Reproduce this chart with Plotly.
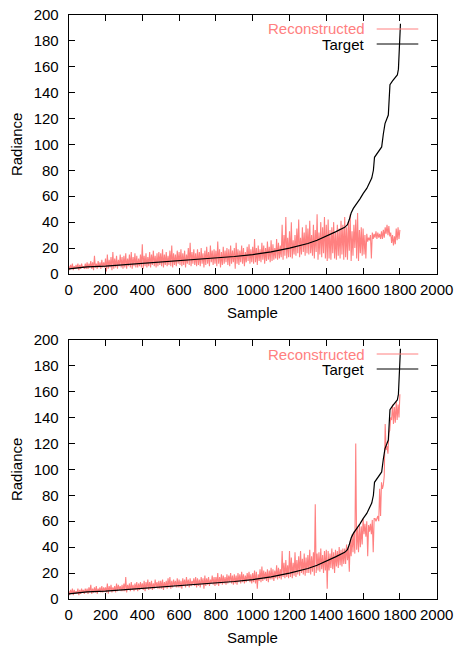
import plotly.graph_objects as go

# ---------------- data ----------------
STEP = 10  # hi values at 0,10,...,1800 ; lo values at 5,15,...,1795

tgt_x = [0, 50, 100, 200, 300, 400, 500, 600, 700, 800, 900, 1000, 1100, 1200,
         1250, 1300, 1350, 1400, 1450, 1500, 1515, 1525, 1535, 1547, 1560, 1583,
         1600, 1620, 1647, 1656, 1662, 1674, 1690, 1701, 1710, 1719, 1737, 1746,
         1760, 1774, 1786, 1792, 1797, 1801, 1803]
tgt_y = [4, 5, 5.5, 6, 7, 8, 9, 10, 11, 12, 13.5, 15, 17, 20,
         21.5, 23.5, 26, 29, 32.5, 36, 38, 42, 47, 50.6, 53, 58,
         62, 66, 74, 80, 90, 92.5, 95, 98, 108, 116, 122.6, 146,
         149, 151, 153.5, 158, 173, 190, 193]

top_hi = [6, 7, 8, 6, 7, 8, 7, 8, 6, 8,
          9, 8, 10, 9, 14, 8, 10, 9, 11, 9,
          12, 15, 11, 13, 17, 12, 14, 11, 15, 13,
          14, 16, 12, 15, 17, 13, 16, 14, 12, 15,
          23, 14, 16, 13, 17, 15, 18, 14, 16, 17,
          16, 19, 15, 17, 14, 18, 22, 16, 15, 18,
          17, 19, 16, 18, 15, 20, 24, 17, 19, 16,
          19, 17, 20, 16, 18, 21, 17, 22, 18, 19,
          18, 25, 19, 17, 21, 18, 20, 19, 22, 18,
          20, 24, 19, 18, 22, 20, 17, 21, 23, 19,
          21, 27, 20, 22, 19, 24, 22, 20, 25, 21,
          26, 23, 20, 27, 24, 22, 38, 30, 44, 28,
          33, 40, 26, 30, 35, 42, 28, 36, 32, 38,
          35, 41, 30, 38, 34, 46, 32, 40, 36, 44,
          38, 42, 34, 36, 40, 32, 38, 35, 41, 38,
          44, 36, 40, 46, 33, 38, 42, 47, 34, 36,
          35, 30, 31, 28, 30, 32, 31, 33, 32, 31,
          33, 34, 36, 38, 37, 32, 30, 29, 35, 36,
          34]
top_lo = [3, 4, 3, 4, 4, 3, 4, 5, 4, 4,
          4, 5, 4, 3, 5, 4, 5, 4, 5, 5,
          2, 4, 5, 3, 4, 5, 4, 6, 5, 4,
          5, 4, 6, 5, 4, 6, 5, 5, 6, 5,
          4, 6, 5, 6, 5, 7, 6, 5, 6, 7,
          6, 5, 7, 6, 7, 6, 5, 7, 6, 8,
          7, 6, 7, 5, 8, 7, 6, 8, 7, 6,
          7, 6, 8, 5, 7, 8, 6, 9, 7, 8,
          6, 8, 5, 7, 8, 9, 7, 6, 8, 9,
          4, 8, 7, 9, 8, 6, 9, 10, 8, 9,
          8, 9, 7, 10, 9, 11, 8, 10, 11, 9,
          10, 11, 12, 11, 12, 13, 11, 14, 12, 13,
          13, 12, 15, 14, 16, 13, 15, 17, 14, 16,
          15, 16, 14, 12, 17, 11, 15, 13, 16, 12,
          10, 12, 11, 16, 12, 11, 14, 12, 15, 11,
          13, 11, 18, 10, 14, 20, 12, 10, 16, 14,
          15, 12, 25, 26, 12, 27, 28, 27, 28, 27,
          27, 28, 31, 30, 29, 24, 22, 23, 26, 27]

bot_hi = [6, 7, 8, 7, 6, 8, 7, 8, 7, 8,
          8, 9, 11, 8, 9, 10, 8, 9, 10, 9,
          9, 12, 10, 11, 9, 10, 12, 11, 10, 11,
          12, 17, 11, 12, 13, 11, 12, 13, 12, 13,
          12, 14, 13, 15, 13, 14, 12, 15, 13, 14,
          14, 15, 13, 14, 16, 17, 14, 15, 14, 16,
          15, 14, 16, 15, 17, 15, 16, 14, 16, 17,
          16, 15, 17, 16, 18, 16, 17, 15, 18, 17,
          17, 20, 17, 19, 18, 17, 19, 18, 20, 18,
          19, 18, 20, 19, 21, 19, 18, 20, 21, 19,
          20, 22, 21, 19, 23, 25, 22, 21, 23, 22,
          24, 23, 22, 26, 24, 23, 37, 28, 30, 26,
          37, 32, 28, 36, 30, 33, 37, 31, 35, 32,
          34, 38, 33, 36, 73, 35, 36, 39, 34, 37,
          38, 37, 35, 39, 36, 38, 37, 40, 38, 39,
          39, 42, 40, 45, 50, 52, 120, 55, 57, 56,
          62, 58, 60, 57, 58, 61, 62, 60, 64, 85,
          90, 88, 135, 118, 128, 140, 150, 148, 152, 150,
          158]
bot_lo = [3, 4, 3, 4, 4, 3, 4, 5, 4, 5,
          4, 5, 4, 5, 5, 4, 6, 5, 5, 6,
          5, 4, 6, 5, 6, 5, 6, 7, 6, 6,
          6, 5, 7, 6, 7, 6, 7, 6, 7, 8,
          7, 6, 8, 7, 8, 7, 8, 9, 8, 8,
          8, 7, 9, 8, 9, 8, 9, 10, 9, 9,
          9, 8, 10, 9, 10, 9, 10, 11, 10, 9,
          10, 9, 11, 8, 10, 11, 10, 12, 11, 10,
          11, 10, 12, 11, 12, 11, 12, 13, 12, 11,
          12, 11, 13, 12, 13, 12, 13, 14, 13, 12,
          13, 12, 8, 14, 13, 14, 15, 14, 13, 15,
          15, 14, 16, 15, 16, 15, 17, 16, 17, 16,
          17, 16, 18, 17, 19, 18, 20, 19, 18, 20,
          20, 19, 21, 18, 20, 22, 21, 23, 20, 22,
          8, 22, 24, 23, 20, 25, 24, 26, 25, 27,
          27, 30, 21, 33, 36, 35, 38, 36, 40, 42,
          50, 48, 33, 52, 50, 36, 62, 63, 60, 64,
          85, 95, 115, 112, 130, 138, 135, 136, 138, 140]

x_ticks = [0, 200, 400, 600, 800, 1000, 1200, 1400, 1600, 1800, 2000]
y_ticks = [0, 20, 40, 60, 80, 100, 120, 140, 160, 180, 200]

RED = "#ff8080"
FONT = "Liberation Sans, Arial, sans-serif"
FS = 15

# the page's default body margin is removed (post_script), so the figure
# fills the 455x646 window from its top-left corner
W, H = 455, 646


def px(x):
    return x / W


def py(y):
    return 1 - y / H


def zigzag(hi, lo):
    xs, ys = [], []
    for i, h in enumerate(hi):
        xs.append(i * STEP)
        ys.append(h)
        if i < len(lo):
            xs.append(i * STEP + STEP / 2)
            ys.append(lo[i])
    return xs, ys


fig = go.Figure()

panels = [("x", "y", top_hi, top_lo), ("x2", "y2", bot_hi, bot_lo)]
for xa, ya, hi, lo in panels:
    zx, zy = zigzag(hi, lo)
    fig.add_trace(go.Scatter(x=zx, y=zy, mode="lines", xaxis=xa, yaxis=ya,
                             line=dict(color=RED, width=1.1), showlegend=False,
                             hoverinfo="skip"))
    fig.add_trace(go.Scatter(x=tgt_x, y=tgt_y, mode="lines", xaxis=xa, yaxis=ya,
                             line=dict(color="black", width=1.2), showlegend=False,
                             hoverinfo="skip"))

PL, PR = 68.7, 436.7
panel_px = [(14.7, 274.0), (339.7, 599.0)]

axis_common = dict(showline=True, linecolor="black", linewidth=1, mirror="ticks",
                   ticks="inside", ticklen=6, tickcolor="black", tickwidth=1,
                   showgrid=False, zeroline=False, automargin=False,
                   ticklabeloverflow="allow",
                   tickfont=dict(family=FONT, size=FS, color="black"))

fig.update_layout(
    width=W, height=H, margin=dict(l=0, r=0, t=0, b=0),
    paper_bgcolor="white", plot_bgcolor="white",
    font=dict(family=FONT, size=FS, color="black"),
    xaxis=dict(domain=[px(PL), px(PR)], range=[0, 2000], tickvals=x_ticks, anchor="y",
               ticklabelstandoff=2, **axis_common),
    yaxis=dict(domain=[py(panel_px[0][1]), py(panel_px[0][0])], range=[0, 200],
               tickvals=y_ticks, anchor="x", ticklabelstandoff=6, **axis_common),
    xaxis2=dict(domain=[px(PL), px(PR)], range=[0, 2000], tickvals=x_ticks, anchor="y2",
                ticklabelstandoff=2, **axis_common),
    yaxis2=dict(domain=[py(panel_px[1][1]), py(panel_px[1][0])], range=[0, 200],
                tickvals=y_ticks, anchor="x2", ticklabelstandoff=6, **axis_common),
)

for ptop, pbot in panel_px:
    # axis titles
    fig.add_annotation(x=px(16.7), y=py((ptop + pbot) / 2), xref="paper", yref="paper",
                       text="Radiance", textangle=-90, showarrow=False,
                       xanchor="center", yanchor="middle",
                       font=dict(family=FONT, size=FS, color="black"))
    fig.add_annotation(x=px((PL + PR) / 2), y=py(pbot + 38), xref="paper", yref="paper",
                       text="Sample", showarrow=False, xanchor="center", yanchor="middle",
                       font=dict(family=FONT, size=FS, color="black"))
    # gnuplot-style legend: text left of the line sample
    for text, color, dy in [("Reconstructed", RED, 14.3), ("Target", "black", 29.3)]:
        yy = py(ptop + dy)
        fig.add_annotation(x=px(366.7), y=yy, xref="paper", yref="paper",
                           text=text, showarrow=False, xanchor="right", yanchor="middle",
                           font=dict(family=FONT, size=FS, color=color))
        fig.add_shape(type="line", xref="paper", yref="paper",
                      x0=px(376.7), x1=px(418.3), y0=yy, y1=yy,
                      line=dict(color=color, width=1))

fig.write_html("out.html",
               config={"staticPlot": True, "displayModeBar": False},
               post_script="document.body.style.margin='0px';"
                           "document.body.style.overflow='hidden';")
